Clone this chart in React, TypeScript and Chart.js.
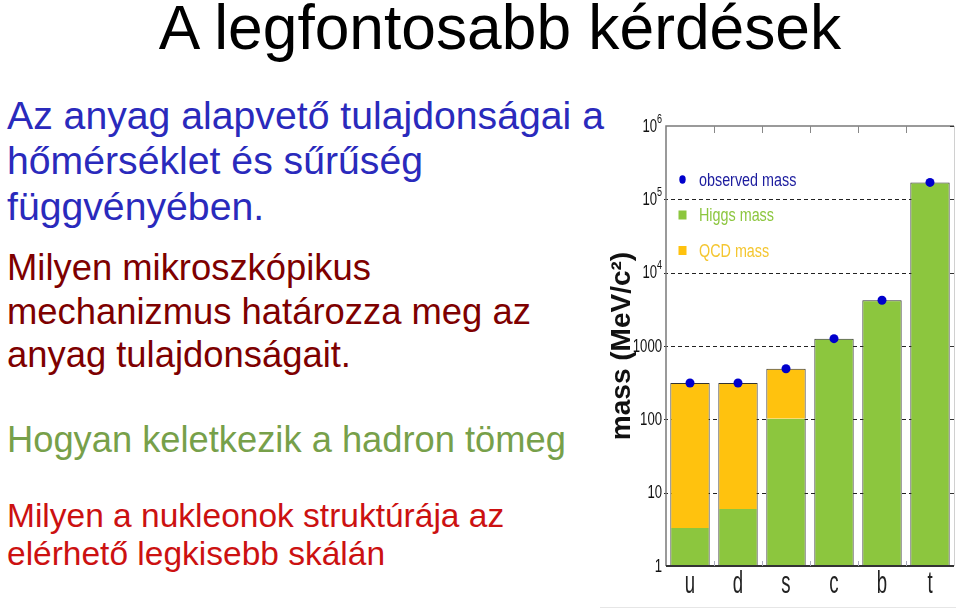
import React, { useEffect, useRef } from "react";
import { Chart, registerables } from "chart.js";

Chart.register(...registerables);

// ---------- data ----------
const quarks = ["u", "d", "s", "c", "b", "t"];
const higgsMass = [3.3, 6, 102, 1260, 4200, 170000];
const qcdMass: (number | null)[] = [310, 307, 388, null, null, null];
const observedMass = [313, 313, 490, 1260, 4200, 170000];
const yTickValues = [1, 10, 100, 1000, 1e4, 1e5, 1e6];
const yTickBases = ["1", "10", "100", "1000", "10", "10", "10"];
const yTickExponents = ["", "", "", "", "4", "5", "6"];
const legendLabels = ["observed mass", "Higgs mass", "QCD mass"];
const yAxisTitle = "mass (MeV/c²)";

const titleText = "A legfontosabb kérdések";
const blueLines = ["Az anyag alapvető tulajdonságai a", "hőmérséklet és sűrűség", "függvényében."];
const darkRedLines = ["Milyen mikroszkópikus", "mechanizmus határozza meg az", "anyag tulajdonságait."];
const greenLines = ["Hogyan keletkezik a hadron tömeg"];
const redLines = ["Milyen a nukleonok struktúrája az", "elérhető legkisebb skálán"];

// ---------- styles ----------
const SANS = "'Liberation Sans', Arial, sans-serif";
const GREEN = "#8cc63e";
const YELLOW = "#ffc20e";
const DOT = "#0000cc";

function narrowText(ctx: any, text: string, x: number, y: number, size: number, sx: number, align: "left" | "right" | "center") {
  ctx.save();
  ctx.font = `${size}px ${SANS}`;
  ctx.textBaseline = "alphabetic";
  ctx.textAlign = align;
  ctx.translate(x, y);
  ctx.scale(sx, 1);
  ctx.fillText(text, 0, 0);
  ctx.restore();
}

function narrowWidth(ctx: any, text: string, size: number, sx: number) {
  ctx.save();
  ctx.font = `${size}px ${SANS}`;
  const w = ctx.measureText(text).width * sx;
  ctx.restore();
  return w;
}

const framePlugin = {
  id: "framePlugin",
  beforeDatasetsDraw(chart: any) {
    const { ctx, chartArea: a, scales } = chart;
    const y = scales.y;
    ctx.save();
    ctx.strokeStyle = "#222";
    ctx.lineWidth = 1;
    ctx.setLineDash([4, 3]);
    for (const v of yTickValues) {
      if (v === yTickValues[0] || v === yTickValues[yTickValues.length - 1]) continue;
      const py = Math.round(y.getPixelForValue(v)) + 0.5;
      ctx.beginPath();
      ctx.moveTo(a.left - 2, py);
      ctx.lineTo(a.right, py);
      ctx.stroke();
    }
    ctx.restore();
  },
  afterDatasetsDraw(chart: any) {
    const { ctx, chartArea: a, scales, width, height } = chart;
    const x = scales.x;
    const y = scales.y;
    ctx.save();
    // light frame of the figure
    ctx.strokeStyle = "#e6e6e6";
    ctx.lineWidth = 1;
    ctx.beginPath();
    ctx.moveTo(0, height - 4.5);
    ctx.lineTo(width - 4, height - 4.5);
    ctx.stroke();
    // faint right edge
    ctx.strokeStyle = "#d0d0d0";
    ctx.beginPath();
    ctx.moveTo(a.right + 0.5, a.top);
    ctx.lineTo(a.right + 0.5, a.bottom);
    ctx.stroke();
    // top + left axis (grey), bottom axis (dark)
    ctx.strokeStyle = "#7a7a7a";
    ctx.lineWidth = 1.5;
    ctx.beginPath();
    ctx.moveTo(a.right, a.top);
    ctx.lineTo(a.left, a.top);
    ctx.lineTo(a.left, a.bottom);
    ctx.stroke();
    ctx.strokeStyle = "#333";
    ctx.lineWidth = 2;
    ctx.beginPath();
    ctx.moveTo(a.left, a.bottom);
    ctx.lineTo(a.right, a.bottom);
    ctx.stroke();
    // right ticks
    ctx.strokeStyle = "#333";
    ctx.lineWidth = 1;
    for (const v of yTickValues) {
      const py = Math.round(y.getPixelForValue(v)) + 0.5;
      ctx.beginPath();
      ctx.moveTo(a.right - 4, py);
      ctx.lineTo(a.right, py);
      ctx.stroke();
    }
    // top and bottom ticks between categories
    for (let i = 0; i < quarks.length - 1; i++) {
      const bx = Math.round((x.getPixelForValue(i) + x.getPixelForValue(i + 1)) / 2) + 0.5;
      ctx.strokeStyle = "#888";
      ctx.beginPath();
      ctx.moveTo(bx, a.top);
      ctx.lineTo(bx, a.top + 7);
      ctx.stroke();
      ctx.strokeStyle = "#aab";
      ctx.beginPath();
      ctx.moveTo(bx, a.bottom);
      ctx.lineTo(bx, a.bottom - 5);
      ctx.stroke();
    }
    // y tick labels (narrow, with superscript exponents)
    ctx.fillStyle = "#111";
    yTickValues.forEach((v, i) => {
      const py = y.getPixelForValue(v);
      const right = a.left - 4;
      const base = yTickBases[i];
      const exp = yTickExponents[i];
      const ew = exp ? narrowWidth(ctx, exp, 12, 0.75) : 0;
      narrowText(ctx, base, right - ew, py + 5.5, 18, 0.73, "right");
      if (exp) narrowText(ctx, exp, right, py - 3.5, 12, 0.75, "right");
    });
    // x tick labels
    ctx.fillStyle = "#222";
    quarks.forEach((q, i) => {
      narrowText(ctx, q, x.getPixelForValue(i), a.bottom + 27, 31, 0.6, "center");
    });
    // legend
    const lx = a.left + 16.5;
    const rows = [a.top + 53.5, a.top + 89, a.top + 124.5];
    const textColors = ["#1c1c9e", GREEN, "#f4c630"];
    ctx.fillStyle = DOT;
    ctx.beginPath();
    ctx.ellipse(lx, rows[0], 3.2, 4.2, 0, 0, Math.PI * 2);
    ctx.fill();
    ctx.fillStyle = GREEN;
    ctx.fillRect(lx - 4, rows[1] - 4.5, 8, 9);
    ctx.fillStyle = YELLOW;
    ctx.fillRect(lx - 4, rows[2] - 4.5, 8, 9);
    legendLabels.forEach((t, i) => {
      ctx.fillStyle = textColors[i];
      narrowText(ctx, t, a.left + 33, rows[i] + 6, 17.5, 0.82, "left");
    });
    ctx.restore();
  },
};

function MassChart() {
  const ref = useRef<HTMLCanvasElement | null>(null);
  useEffect(() => {
    if (!ref.current) return;
    const chart = new Chart(ref.current, {
      type: "bar",
      data: {
        labels: quarks,
        datasets: [
          {
            type: "line",
            label: legendLabels[0],
            data: observedMass,
            showLine: false,
            pointStyle: "circle",
            pointRadius: 4.5,
            pointBackgroundColor: DOT,
            pointBorderWidth: 0,
            borderColor: DOT,
            order: 0,
            stack: "obs",
          } as any,
          {
            type: "bar",
            label: legendLabels[1],
            data: higgsMass,
            backgroundColor: GREEN,
            borderColor: "#333",
            borderSkipped: false,
            borderWidth: (c: any) => ({ left: 1, right: 1, bottom: 0, top: qcdMass[c.dataIndex] == null ? 1 : 0 }),
            barPercentage: 0.82,
            categoryPercentage: 1,
            order: 1,
            stack: "mass",
          },
          {
            type: "bar",
            label: legendLabels[2],
            data: qcdMass,
            backgroundColor: YELLOW,
            borderColor: "#333",
            borderSkipped: false,
            borderWidth: { left: 1, right: 1, bottom: 0, top: 1 },
            barPercentage: 0.82,
            categoryPercentage: 1,
            order: 1,
            stack: "mass",
          },
        ],
      },
      options: {
        animation: false,
        responsive: true,
        maintainAspectRatio: false,
        layout: { padding: { top: 26, right: 6, left: 0, bottom: 0 } },
        plugins: { legend: { display: false }, tooltip: { enabled: false } },
        scales: {
          x: {
            stacked: true,
            grid: { display: false, drawTicks: false },
            border: { display: false },
            ticks: { display: false },
            afterFit: (s: any) => { s.height = 46; },
          },
          y: {
            type: "logarithmic",
            stacked: true,
            min: 1,
            max: 1e6,
            grid: { display: false, drawTicks: false },
            border: { display: false },
            title: {
              display: true,
              text: yAxisTitle,
              color: "#111",
              font: { family: SANS, size: 28, weight: "bold" },
              padding: { top: 5, bottom: 0 },
            },
            ticks: { display: false },
            afterBuildTicks: (s: any) => {
              s.ticks = yTickValues.map((v) => ({ value: v }));
            },
            afterFit: (s: any) => { s.width = 66; },
          },
        },
      },
      plugins: [framePlugin],
    });
    return () => chart.destroy();
  }, []);
  return <canvas ref={ref} />;
}

function TextLine({ text, left, baseline, size, color }: { text: string; left: number; baseline: number; size: number; color: string }) {
  return (
    <div
      style={{
        position: "absolute",
        left,
        top: baseline - 0.8465 * size,
        fontFamily: SANS,
        fontSize: size,
        lineHeight: `${size}px`,
        color,
        whiteSpace: "nowrap",
      }}
    >
      {text}
    </div>
  );
}

export default function App() {
  return (
    <div style={{ position: "fixed", left: 0, top: 0, width: 960, height: 612, background: "#fff", overflow: "hidden" }}>
      <div
        style={{
          position: "absolute",
          left: 0,
          width: 1000,
          textAlign: "center",
          top: 50 - 0.8465 * 62.3,
          fontFamily: SANS,
          fontSize: 62.3,
          lineHeight: "62.3px",
          color: "#000",
          whiteSpace: "nowrap",
        }}
      >
        {titleText}
      </div>
      {blueLines.map((t, i) => (
        <TextLine key={"b" + i} text={t} left={7} baseline={129 + i * 45.5} size={39.2} color="#2a2abc" />
      ))}
      {darkRedLines.map((t, i) => (
        <TextLine key={"dr" + i} text={t} left={7} baseline={281 + i * 43.5} size={36.4} color="#7e0000" />
      ))}
      {greenLines.map((t, i) => (
        <TextLine key={"g" + i} text={t} left={7} baseline={453 + i * 40} size={36.3} color="#77a04a" />
      ))}
      {redLines.map((t, i) => (
        <TextLine key={"r" + i} text={t} left={7} baseline={527.5 + i * 37.5} size={33.5} color="#cc1111" />
      ))}
      <div style={{ position: "absolute", left: 600, top: 100, width: 360, height: 512 }}>
        <MassChart />
      </div>
    </div>
  );
}
